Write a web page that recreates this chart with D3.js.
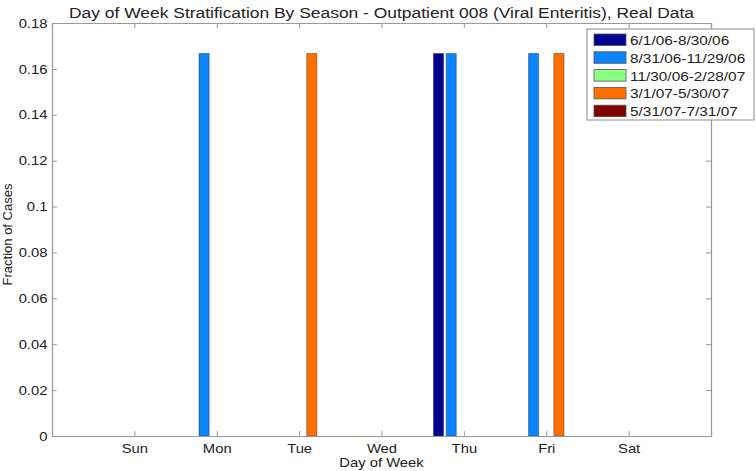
<!DOCTYPE html>
<html>
<head>
<meta charset="utf-8">
<script src="https://cdn.jsdelivr.net/npm/d3@7"></script>
<style>
  body { margin: 0; background: #fff; }
  text { font-family: "Liberation Sans", Arial, sans-serif; fill: #222; }
</style>
</head>
<body>
<svg id="chart" width="756" height="471"></svg>
<script>
const days = ["Sun", "Mon", "Tue", "Wed", "Thu", "Fri", "Sat"];
const seasons = ["6/1/06-8/30/06", "8/31/06-11/29/06", "11/30/06-2/28/07", "3/1/07-5/30/07", "5/31/07-7/31/07"];
const colors = ["#000090", "#0a84ff", "#88ff80", "#ff7000", "#800000"];
const summer06 = [0, 0, 0, 0, 0.1667, 0, 0];
const fall06 = [0, 0.1667, 0, 0, 0.1667, 0.1667, 0];
const winter07 = [0, 0, 0, 0, 0, 0, 0];
const spring07 = [0, 0, 0.1667, 0, 0, 0.1667, 0];
const summer07 = [0, 0, 0, 0, 0, 0, 0];
const yTicks = [0, 0.02, 0.04, 0.06, 0.08, 0.1, 0.12, 0.14, 0.16, 0.18];

const seriesValues = [summer06, fall06, winter07, spring07, summer07];

// the picture is a bit wider than tall, so text is stretched sideways
const sx = 1.14;

const svg = d3.select("#chart");
const margin = { top: 23, right: 45, bottom: 35, left: 52 };
const width = 756 - margin.left - margin.right;
const height = 471 - margin.top - margin.bottom;

const g = svg.append("g")
  .attr("transform", `translate(${margin.left},${margin.top})`);

// x is numeric like matlab: Sun=1 ... Sat=7, limits 0..8
const x = d3.scaleLinear().domain([0, 8]).range([0, width]);
const y = d3.scaleLinear().domain([0, 0.18]).range([height, 0]);

// grouped bar layout (matlab style)
const n = seasons.length;
const groupW = Math.min(0.8, n / (n + 1.5));
const slot = groupW / n;
const barW = slot * 0.8;

seriesValues.forEach((vals, s) => {
  const off = (s - (n - 1) / 2) * slot;
  g.selectAll(".bar" + s)
    .data(vals.map((v, i) => ({ v: v, i: i })).filter(d => d.v > 0))
    .enter()
    .append("rect")
    .attr("x", d => x(d.i + 1 + off - barW / 2))
    .attr("width", x(barW) - x(0))
    .attr("y", d => y(d.v))
    .attr("height", d => y(0) - y(d.v))
    .style("fill", colors[s])
    .style("stroke", "#333")
    .style("stroke-opacity", 0.45)
    .style("stroke-width", 1);
});

const axisColor = "#999";

// axes box with inward ticks
const xAxis = g.append("g")
  .attr("transform", `translate(0,${height})`)
  .call(d3.axisBottom(x).tickValues(d3.range(1, 8)).tickSize(-5).tickPadding(8)
    .tickFormat(d => days[d - 1]));
const xTop = g.append("g")
  .call(d3.axisTop(x).tickValues(d3.range(1, 8)).tickSize(-5).tickFormat(""));
const yAxis = g.append("g")
  .call(d3.axisLeft(y).tickValues(yTicks).tickSize(-5).tickPadding(4)
    .tickFormat(d => d === 0 ? "0" : d3.format("")(+d.toFixed(2))));
const yRight = g.append("g")
  .attr("transform", `translate(${width},0)`)
  .call(d3.axisRight(y).tickValues(yTicks).tickSize(-5).tickFormat(""));

[xAxis, xTop, yAxis, yRight].forEach(a => {
  a.selectAll("path").attr("stroke", axisColor).attr("stroke-width", 1.2);
  a.selectAll("line").attr("stroke", axisColor);
  a.selectAll("text")
    .style("font-size", "13px")
    .attr("fill", "#222")
    .attr("transform", `scale(${sx},1)`);
});

// labels
function stretchedText(parent, px, py, size, label) {
  return parent.append("text")
    .attr("transform", `translate(${px},${py}) scale(${sx},1)`)
    .style("text-anchor", "middle")
    .style("font-size", size + "px")
    .text(label);
}

stretchedText(g, width / 2, height + 31, 13, "Day of Week");

svg.append("text")
  .attr("transform", `translate(12,${margin.top + height / 2 + 5}) rotate(-90)`)
  .style("text-anchor", "middle")
  .style("font-size", "13px")
  .text("Fraction of Cases");

stretchedText(svg, margin.left + width / 2, 18, 15.3,
  "Day of Week Stratification By Season - Outpatient 008 (Viral Enteritis), Real Data");

// legend
const legend = svg.append("g").attr("transform", "translate(587,29)");
legend.append("rect")
  .attr("width", 167)
  .attr("height", 91)
  .style("fill", "#fff")
  .style("stroke", "#888");
seasons.forEach((label, i) => {
  const row = legend.append("g").attr("transform", `translate(7,${5 + i * 17.8})`);
  row.append("rect")
    .attr("width", 32)
    .attr("height", 11.5)
    .style("fill", colors[i])
    .style("stroke", "#555")
    .style("stroke-width", 0.8);
  row.append("text")
    .attr("transform", `translate(36,11) scale(${sx},1)`)
    .style("font-size", "13.5px")
    .text(label);
});
</script>
</body>
</html>
